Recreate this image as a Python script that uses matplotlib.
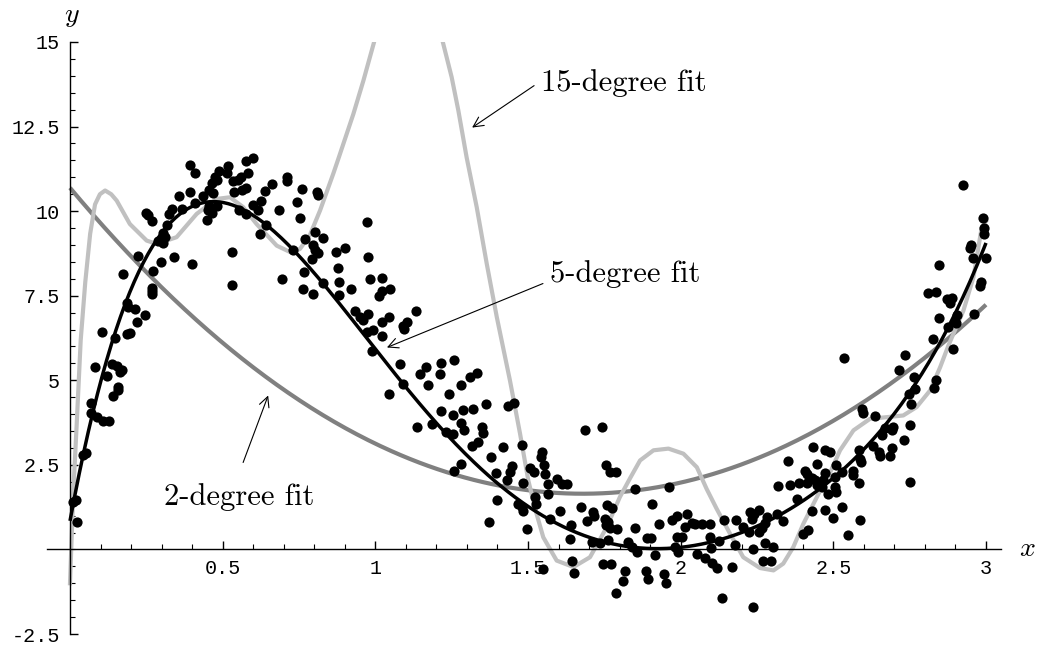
## Scatter data with 2-, 5- and 15-degree polynomial fits (Mathematica style) ##
import numpy as np
import matplotlib
matplotlib.use('Agg')
import matplotlib.pyplot as plt

## data #######################################################################
pts_x = [0.393, 0.409, 0.600, 0.575, 0.518, 0.488, 0.513, 0.475, 0.480, 0.582,
         0.559, 0.551, 0.535, 0.466, 0.710, 0.712, 0.661, 0.639, 0.575, 0.562,
         0.537, 0.456, 0.467, 0.393, 0.356, 0.435, 0.625, 0.598, 0.743, 0.410,
         0.482, 0.456, 0.451, 0.464, 0.448, 0.554, 0.575, 0.617, 0.685, 0.333,
         0.325, 0.367, 0.249, 0.254, 0.268, 0.753, 0.642, 0.317, 0.306, 0.311,
         0.622, 0.287, 0.304, 0.729, 0.530, 0.342, 0.222, 0.297, 0.399, 0.273,
         0.173, 0.695, 0.532, 0.268, 0.268, 0.270, 0.188, 0.191, 0.213, 0.246,
         0.218, 0.104, 0.188, 0.196, 0.147,
         0.082, 0.137, 0.153, 0.169, 0.164, 0.122, 0.156, 0.158, 0.140, 0.069,
         0.068, 0.089, 0.109, 0.129, 0.052, 0.044, 0.020, 0.011, 0.022,
         0.759, 0.808, 0.811, 0.972, 0.802, 0.771, 0.828, 0.795, 0.802, 0.813,
         0.902, 0.871, 0.793, 0.977, 0.878, 0.766, 0.882, 0.830, 0.983, 1.021,
         0.764, 0.795, 0.920, 0.882, 1.021, 1.048, 1.013, 0.933, 0.977, 0.950,
         0.961, 1.133, 1.044, 1.021, 1.105, 1.090, 1.094, 0.972, 0.993, 1.021,
         0.988, 1.081, 1.166, 1.146, 1.215, 1.259, 1.212, 1.332, 1.310, 1.092,
         1.171, 1.281, 1.046, 1.242, 1.362, 1.455, 1.435, 1.214, 1.288, 1.321,
         1.255, 1.279, 1.184, 1.135, 1.350, 1.354, 1.290, 1.230, 1.255, 1.337,
         1.318, 1.417, 1.479, 1.379, 1.281, 1.259, 1.448, 1.441, 1.395, 1.506,
         1.432, 1.484, 1.400, 1.468, 1.479, 1.483, 1.373, 1.496,
         1.687, 1.742, 1.547, 1.542, 1.520, 1.552, 1.556, 1.755, 1.769, 1.788,
         1.594, 1.566, 1.610, 1.627, 1.850, 1.963,
         1.523, 1.526, 1.566, 1.605, 1.674, 1.758, 1.774, 1.905, 1.572, 1.714,
         1.716, 1.692, 1.752, 1.763, 1.755, 1.640, 1.636, 1.769, 1.793, 1.851,
         1.930, 1.971, 1.987, 2.022, 2.015, 2.036, 2.047, 2.071, 2.096, 2.142,
         2.181, 2.227, 2.240, 2.233, 2.257, 2.205, 2.225, 2.257, 1.709, 1.736,
         1.763, 1.829, 1.840, 1.889, 1.902, 1.987, 2.004, 2.096, 2.124, 1.856,
         1.916, 1.982, 1.992, 2.053, 2.099, 2.178, 2.238, 1.643, 1.652, 1.548,
         1.745, 1.771, 1.818, 1.812, 1.788, 1.887, 1.894, 1.947, 1.952, 2.080,
         2.102, 2.120, 2.168, 2.135, 2.238,
         2.926, 2.991, 2.993, 2.993, 2.950, 2.948, 2.957, 3.000, 2.846, 2.983,
         2.981, 2.811, 2.837, 2.872, 2.888, 2.882, 2.904, 2.902, 2.846, 2.961,
         2.877, 2.828,
         2.893, 2.536, 2.736, 2.716, 2.764, 2.836, 2.831, 2.768, 2.749, 2.754,
         2.593, 2.596, 2.636, 2.751, 2.697, 2.669, 2.691, 2.658, 2.732, 2.631,
         2.435, 2.693, 2.473, 2.489, 2.585, 2.648, 2.653, 2.684, 2.588, 2.590,
         2.351, 2.448, 2.509, 2.407, 2.413, 2.473, 2.566, 2.564, 2.429, 2.440,
         2.467, 2.528, 2.506, 2.585, 2.751, 2.415, 2.386, 2.358, 2.320, 2.446,
         2.462, 2.506,
         2.509, 2.484, 2.380, 2.315, 2.282, 2.276, 2.266, 2.336, 2.429, 2.473,
         2.528, 2.500, 2.588, 2.418, 2.402, 2.549, 2.276, 2.304, 2.271, 2.295]
pts_y = [11.35, 11.14, 11.57, 11.47, 11.33, 11.18, 11.12, 11.00, 10.92, 11.14,
         11.02, 10.92, 10.88, 10.82, 11.00, 10.88, 10.79, 10.61, 10.68, 10.63,
         10.58, 10.63, 10.54, 10.58, 10.45, 10.46, 10.31, 10.19, 10.27, 10.24,
         10.14, 10.14, 10.02, 9.94, 9.75, 10.02, 9.92, 10.02, 10.04, 10.07,
         9.92, 10.05, 9.94, 9.89, 9.72, 9.81, 9.60, 9.60, 9.35, 9.25,
         9.31, 9.13, 9.05, 8.86, 8.79, 8.64, 8.66, 8.49, 8.44, 8.22,
         8.13, 8.00, 7.83, 7.73, 7.63, 7.54, 7.28, 7.18, 7.11, 6.94,
         6.72, 6.44, 6.37, 6.39, 6.26,
         5.39, 5.49, 5.41, 5.31, 5.24, 5.14, 4.80, 4.72, 4.53, 4.34,
         4.03, 3.91, 3.81, 3.81, 2.85, 2.78, 1.45, 1.40, 0.81,
         10.66, 10.56, 10.48, 9.69, 9.38, 9.18, 9.21, 9.00, 8.86, 8.76,
         8.92, 8.78, 8.59, 8.64, 8.32, 8.21, 7.91, 7.89, 8.00, 8.03,
         7.69, 7.56, 7.71, 7.53, 7.65, 7.71, 7.50, 7.06, 6.96, 6.86,
         6.77, 7.04, 6.86, 6.72, 6.72, 6.60, 6.52, 6.44, 6.49, 6.30,
         5.88, 5.49, 5.39, 5.19, 5.52, 5.61, 5.19, 5.21, 5.09, 4.90,
         4.85, 4.87, 4.58, 4.58, 4.31, 4.34, 4.23, 4.08, 4.13, 4.14,
         3.96, 3.73, 3.71, 3.61, 3.63, 3.44, 3.52, 3.47, 3.42, 3.17,
         3.07, 3.02, 3.10, 2.73, 2.53, 2.31, 2.48, 2.28, 2.25, 2.42,
         2.04, 1.97, 1.47, 1.35, 1.25, 1.13, 0.80, 0.61,
         3.52, 3.63, 2.88, 2.73, 2.28, 2.50, 2.24, 2.50, 2.28, 2.30,
         2.09, 1.92, 1.94, 1.94, 1.79, 1.84,
         1.55, 1.35, 1.65, 1.15, 1.25, 1.30, 1.23, 1.35, 0.91, 1.10,
         0.98, 0.83, 0.91, 0.81, 0.71, 0.71, 0.30, 0.64, 0.61, 0.64,
         0.76, 0.86, 0.98, 1.05, 0.66, 0.78, 0.74, 0.74, 0.76, 0.86,
         0.86, 1.10, 1.05, 0.91, 1.18, 0.66, 0.51, 0.53, 0.22, 0.19,
         0.27, 0.22, 0.07, 0.33, 0.33, 0.38, 0.38, 0.38, 0.25, -0.08,
         -0.15, 0.07, -0.08, -0.13, 0.04, 0.12, 0.00, -0.35, -0.70, -0.57,
         -0.42, -0.42, -0.65, -0.92, -1.28, -0.64, -0.87, -0.74, -0.98, -0.25,
         -0.39, -0.55, -0.52, -1.43, -1.71,
         10.76, 9.80, 9.51, 9.31, 9.01, 8.92, 8.61, 8.61, 8.41, 7.90,
         7.80, 7.57, 7.60, 7.41, 7.43, 7.28, 6.94, 6.69, 6.85, 6.97,
         6.57, 6.23,
         5.93, 5.66, 5.76, 5.29, 5.09, 5.02, 4.77, 4.75, 4.60, 4.31,
         4.16, 4.03, 3.93, 3.68, 3.63, 3.60, 3.54, 3.37, 3.24, 3.07,
         3.04, 3.01, 2.93, 2.88, 2.93, 2.88, 2.75, 2.75, 2.68, 2.58,
         2.61, 2.53, 2.50, 2.33, 2.22, 2.25, 2.33, 2.21, 2.12, 2.06,
         2.06, 2.28, 2.14, 1.96, 1.99, 1.96, 1.96, 1.89, 1.87, 1.89,
         1.84, 1.84,
         1.69, 1.63, 1.50, 1.05, 0.95, 0.78, 0.64, 0.84, 1.13, 1.17,
         1.25, 0.92, 0.86, 0.58, 0.46, 0.43, 0.19, 0.07, -0.35, -0.33]

# fitted curves, values
fit2_x = [0.0, 0.48, 0.753, 0.994, 1.212, 1.387, 1.507, 1.965, 2.26, 2.588, 2.85, 3.0]
fit2_y = [10.70, 6.18, 4.40, 3.22, 2.43, 1.94, 1.69, 1.87, 2.73, 4.21, 6.08, 7.26]

fit5_x = [0.0, 0.055, 0.082, 0.109, 0.137, 0.218, 0.284, 0.36, 0.459, 0.557,
          0.655, 0.753, 0.862, 0.972, 1.081, 1.19, 1.30, 1.408, 1.507, 1.616,
          1.725, 1.834, 1.943, 2.053, 2.162, 2.26, 2.369, 2.457, 2.588, 2.697,
          2.773, 2.85, 2.915, 3.0]
fit5_y = [1.0, 2.92, 4.20, 5.29, 6.18, 8.34, 9.23, 9.92, 10.26, 10.07,
          9.43, 8.54, 7.46, 6.18, 4.99, 3.81, 2.93, 2.04, 1.25, 0.66,
          0.27, 0.09, 0.02, 0.12, 0.32, 0.61, 1.25, 1.79, 2.93, 3.91,
          5.09, 6.18, 7.26, 8.98]

fit15_x = [0.0, 0.011, 0.022, 0.035, 0.05, 0.066, 0.082, 0.098, 0.115, 0.135,
           0.153, 0.196, 0.251, 0.284, 0.349, 0.415, 0.48, 0.524, 0.567, 0.611,
           0.677, 0.721, 0.753, 0.786, 0.819, 0.862, 0.879, 0.928, 0.961, 0.996,
           1.05, 1.11, 1.17, 1.221, 1.25, 1.272, 1.299, 1.332, 1.365, 1.398,
           1.441, 1.474, 1.501, 1.525, 1.55, 1.594, 1.649, 1.703, 1.758, 1.801,
           1.834, 1.867, 1.911, 1.96, 2.009, 2.053, 2.085, 2.118, 2.162, 2.205,
           2.26, 2.304, 2.336, 2.369, 2.402, 2.435, 2.457, 2.478, 2.522, 2.566,
           2.62, 2.675, 2.729, 2.773, 2.817, 2.85, 2.877, 2.926, 2.959, 2.986,
           3.0]
fit15_y = [-1.0, 1.74, 3.71, 6.18, 7.90, 9.33, 10.20, 10.50, 10.61, 10.50,
           10.31, 9.62, 9.13, 9.03, 9.23, 9.92, 10.36, 10.41, 10.12, 9.62,
           8.98, 8.79, 8.88, 9.30, 10.02, 11.10, 11.55, 12.87, 13.86, 15.0,
           17.0, 18.0, 17.0, 15.0, 13.96, 12.97, 11.59, 10.12, 8.44, 6.86,
           4.99, 3.42, 2.04, 1.15, 0.36, -0.33, -0.52, -0.23, 0.66, 1.55,
           2.10, 2.63, 2.93, 2.98, 2.83, 2.43, 1.79, 1.20, 0.46, -0.23,
           -0.55, -0.62, -0.42, 0.07, 0.76, 1.35, 1.74, 2.04, 2.93, 3.52,
           3.86, 3.91, 3.96, 4.21, 4.70, 5.39, 6.03, 7.06, 8.05, 9.52,
           9.70]

xtick_vals = [0.5, 1, 1.5, 2, 2.5, 3]
xtick_labels = ['0.5', '1', '1.5', '2', '2.5', '3']
ytick_vals = [-2.5, 2.5, 5, 7.5, 10, 12.5, 15]
ytick_labels = ['-2.5', '2.5', '5', '7.5', '10', '12.5', '15']

## plotting ###################################################################
plt.rcParams['mathtext.fontset'] = 'cm'
plt.rcParams['font.family'] = 'Liberation Mono'

fig = plt.figure(figsize=(10.42, 6.48), dpi=100, facecolor='white')
ax = fig.add_axes([0.0452, 0.0216, 0.9157, 0.9136])
ax.set_xlim(-0.075, 3.05)
ax.set_ylim(-2.5, 15)

xx = np.linspace(0, 3, 400)
ax.plot(xx, np.polyval(np.polyfit(fit2_x, fit2_y, 2), xx),
        color='#808080', lw=3, solid_capstyle='butt')
ax.plot(fit15_x, fit15_y, color='#c0c0c0', lw=3, solid_joinstyle='round')
ax.plot(xx, np.polyval(np.polyfit(fit5_x, fit5_y, 5), xx),
        color='black', lw=2.5, solid_capstyle='butt')
ax.scatter(pts_x, pts_y, s=54, color='black', linewidths=0, zorder=5)

# axes through the origin
ax.spines['top'].set_visible(False)
ax.spines['right'].set_visible(False)
ax.spines['left'].set_position(('data', 0))
ax.spines['bottom'].set_position(('data', 0))
ax.spines['left'].set_linewidth(1.0)
ax.spines['bottom'].set_linewidth(1.0)

ax.set_xticks(xtick_vals, labels=xtick_labels)
ax.set_yticks(ytick_vals, labels=ytick_labels)
ax.set_xticks(np.arange(0.1, 3.05, 0.1), minor=True)
ax.set_yticks(np.arange(-2.5, 15.01, 0.5), minor=True)
ax.tick_params(which='major', direction='in', length=6, width=1, labelsize=14.5)
ax.tick_params(which='minor', direction='in', length=3.5, width=0.8)
ax.tick_params(axis='x', pad=7)
ax.tick_params(axis='y', pad=7)

# axis labels
ax.text(3.135, 0, '$x$', fontsize=20, ha='center', va='center', clip_on=False)
ax.text(0.007, 15.78, '$y$', fontsize=20, ha='center', va='center', clip_on=False)

# annotations
arr = dict(arrowstyle='->', color='black', lw=0.8, shrinkA=0, shrinkB=0,
           mutation_scale=18)
ax.text(1.815, 13.80, '15-degree fit', fontfamily='cmr10', fontsize=22,
        ha='center', va='center')
ax.annotate('', xy=(1.317, 12.47), xytext=(1.520, 13.71), arrowprops=arr)
ax.text(1.818, 8.13, '5-degree fit', fontfamily='cmr10', fontsize=22,
        ha='center', va='center')
ax.annotate('', xy=(1.038, 5.97), xytext=(1.549, 7.86), arrowprops=arr)
ax.text(0.554, 1.54, '2-degree fit', fontfamily='cmr10', fontsize=22,
        ha='center', va='center')
ax.annotate('', xy=(0.649, 4.55), xytext=(0.567, 2.57), arrowprops=arr)

fig.savefig('out.png', dpi=100)
